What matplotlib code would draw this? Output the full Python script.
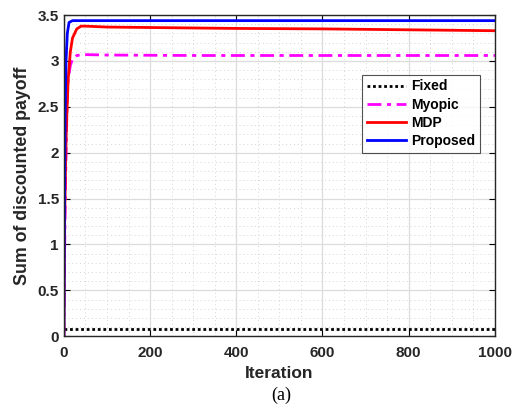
import numpy as np
import matplotlib.pyplot as plt
from matplotlib.ticker import MultipleLocator

# payoff curves over iterations
fixed_iter = [0, 1000]
fixed_val = [0.08, 0.08]

myopic_iter = [0, 1, 2, 3, 4, 6, 8, 10, 15, 20, 30, 45, 100, 300, 600, 1000]
myopic_val = [0.0, 0.6, 1.0, 1.4, 1.7, 2.2, 2.6, 2.8, 2.95, 3.02, 3.06, 3.07, 3.065, 3.06, 3.06, 3.06]

mdp_iter = [0, 1, 2, 4, 6, 10, 15, 20, 30, 40, 50, 100, 200, 400, 600, 800, 1000]
mdp_val = [0.0, 0.8, 1.3, 1.9, 2.3, 2.8, 3.1, 3.25, 3.35, 3.38, 3.38, 3.37, 3.365, 3.355, 3.35, 3.34, 3.33]

proposed_iter = [0, 1, 2, 3, 5, 8, 12, 20, 100, 1000]
proposed_val = [0.0, 1.0, 1.8, 2.4, 3.0, 3.3, 3.42, 3.44, 3.44, 3.44]

y_ticks = [0, 0.5, 1, 1.5, 2, 2.5, 3, 3.5]
y_ticklabels = ['0', '0.5', '1', '1.5', '2', '2.5', '3', '3.5']

fig = plt.figure(figsize=(5.15, 4.09), dpi=100)
ax = fig.add_axes([0.124, 0.178, 0.837, 0.785])

ax.plot(fixed_iter, fixed_val, color='black', linestyle=(0, (1, 1)), linewidth=2, label='Fixed')
ax.plot(myopic_iter, myopic_val, color='#ff00ff', linestyle=(0, (5, 2, 1.5, 2)), linewidth=2, label='Myopic')
ax.plot(mdp_iter, mdp_val, color='#ff0000', linewidth=2, label='MDP')
ax.plot(proposed_iter, proposed_val, color='#0000ff', linewidth=2, label='Proposed')

ax.set_xlim(0, 1000)
ax.set_ylim(0, 3.5)
ax.xaxis.set_major_locator(MultipleLocator(200))
ax.xaxis.set_minor_locator(MultipleLocator(50))
ax.yaxis.set_minor_locator(MultipleLocator(0.1))
ax.set_yticks(y_ticks)
ax.set_yticklabels(y_ticklabels)

ax.grid(which='major', color='#dcdcdc', linestyle='-', linewidth=0.9)
ax.grid(which='minor', color='#d4d4d4', linestyle=(0, (1, 3)), linewidth=0.7)
ax.set_axisbelow(True)

ax.tick_params(which='major', direction='in', length=4, top=True, right=True, width=0.8)
ax.tick_params(which='minor', length=0, top=True, right=True)
ax.tick_params(axis='x', which='major', pad=7)
for lab in ax.get_xticklabels() + ax.get_yticklabels():
    lab.set_fontfamily('Liberation Sans')
    lab.set_fontweight('bold')
    lab.set_fontsize(11)
    lab.set_color('#262626')
for sp in ax.spines.values():
    sp.set_color('#262626')
    sp.set_linewidth(1.0)

ax.set_xlabel('Iteration', fontfamily='Liberation Sans', fontweight='bold', fontsize=12.5, color='#262626', labelpad=4.5)
ax.set_ylabel('Sum of discounted payoff', fontfamily='Liberation Sans', fontweight='bold', fontsize=12.8, color='#262626', labelpad=5)

leg = ax.legend(loc='upper right', bbox_to_anchor=(0.965, 0.815), frameon=True, fancybox=False,
                prop={'family': 'Liberation Sans', 'weight': 'bold', 'size': 10},
                handlelength=2.8, handletextpad=0.35, borderpad=0.35, labelspacing=0.3,
                borderaxespad=0)
leg.get_frame().set_edgecolor('#262626')
leg.get_frame().set_linewidth(0.8)

fig.text(0.547, 0.033, '(a)', ha='center', va='center', fontfamily='Liberation Serif', fontsize=13)

fig.savefig('out.png', dpi=100)
